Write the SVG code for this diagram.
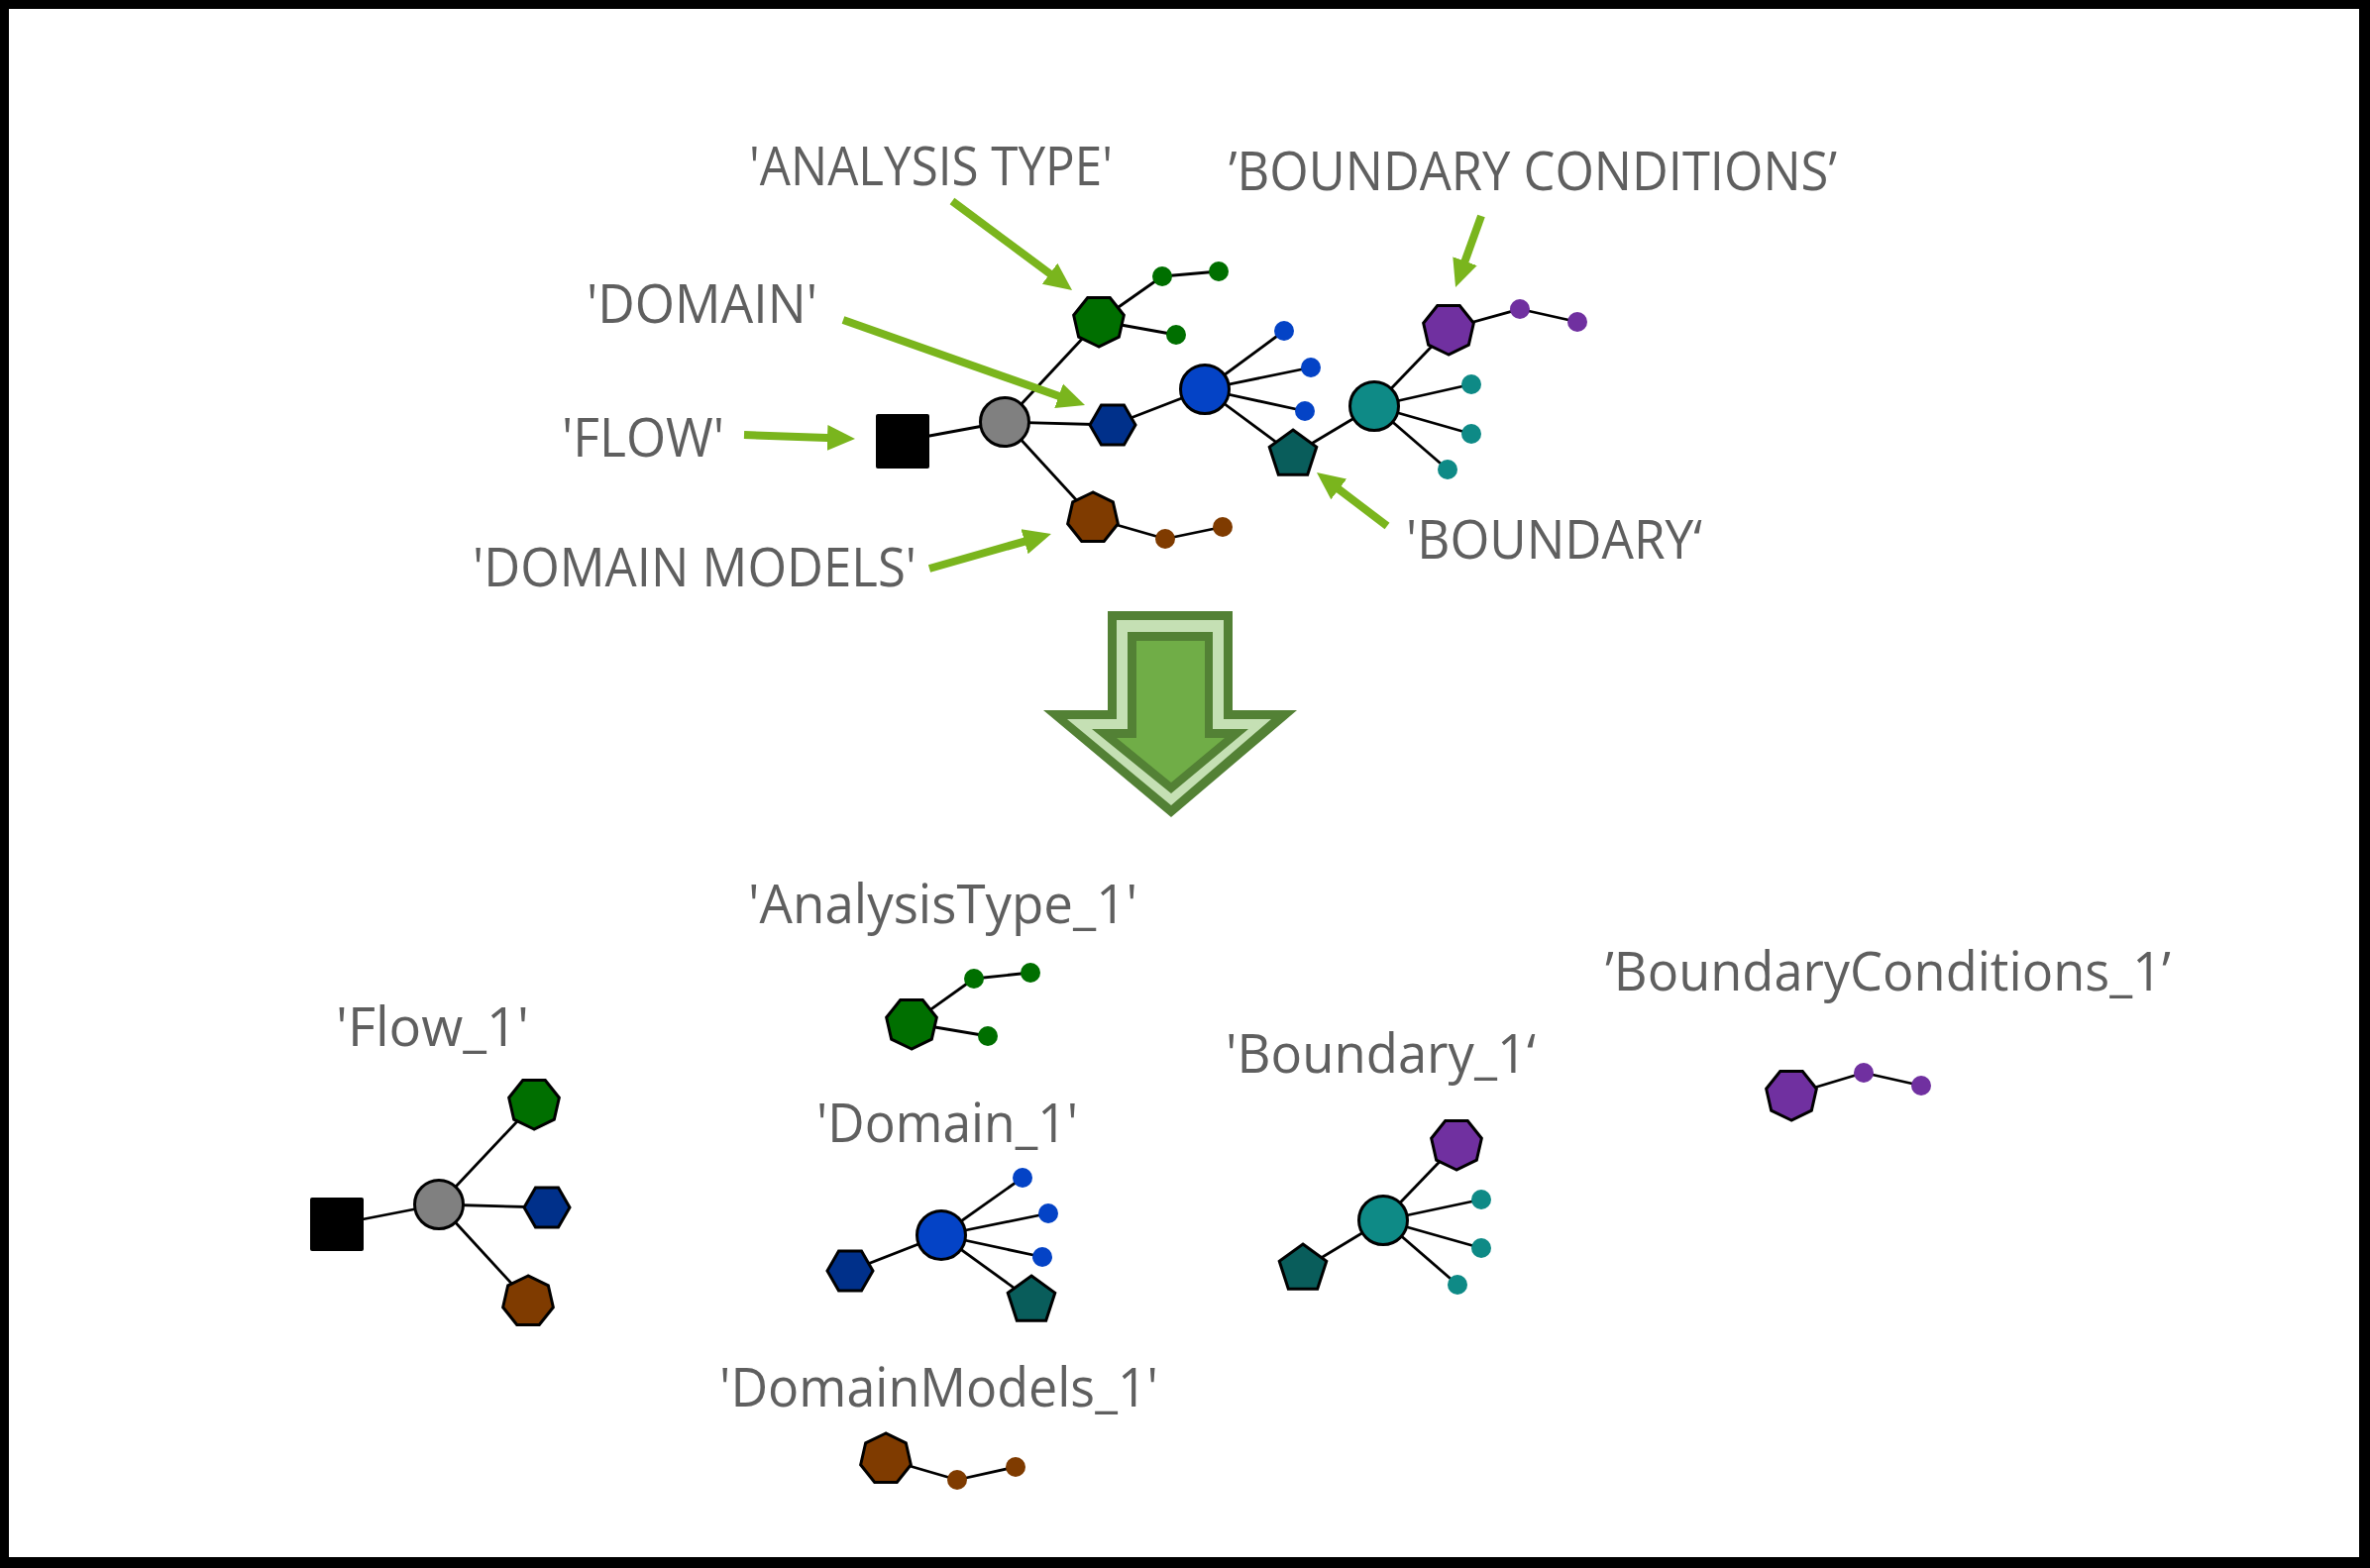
<svg xmlns="http://www.w3.org/2000/svg" xmlns:xlink="http://www.w3.org/1999/xlink" width="2392" height="1583" viewBox="0 0 2392 1583">
<defs>
<style>
.lbl{font-family:"Open Sans","Noto Sans","Liberation Sans",sans-serif;font-size:55px;fill:#5f5f5f}
.edge{stroke:#000;stroke-width:2.8;fill:none}
.nd{stroke:#000;stroke-width:3;stroke-linejoin:miter}
.ptr{stroke:#7ab51d;stroke-width:8;fill:none}
.g{fill:#006f00}.db{fill:#00308a}.bl{fill:#0443c6}.tp{fill:#095d5b}.tc{fill:#0e8a86}.pu{fill:#7030a0}.br{fill:#7f3b00}.gy{fill:#808080}
</style>
<marker id="ah" markerUnits="userSpaceOnUse" markerWidth="30" markerHeight="28" refX="14" refY="13" orient="auto" viewBox="0 0 30 26">
<path d="M0,0 L28,13 L0,26 z" fill="#7ab51d"/>
</marker>
<polygon id="heptD" points="0,26 -20.33,16.21 -25.35,-5.79 -11.28,-23.43 11.28,-23.43 25.35,-5.79 20.33,16.21"/>
<polygon id="heptU" points="0,-26 -20.33,-16.21 -25.35,5.79 -11.28,23.43 11.28,23.43 25.35,5.79 20.33,-16.21"/>
<polygon id="hex" points="23,0 11.5,19.92 -11.5,19.92 -23,0 -11.5,-19.92 11.5,-19.92"/>
<polygon id="pent" points="0,-25 23.78,-7.73 14.69,20.23 -14.69,20.23 -23.78,-7.73"/>
</defs>
<rect x="0" y="0" width="2392" height="1583" fill="#fff"/>
<path d="M0,0 H2392 V1583 H0 Z M9,9 V1572 H2381 V9 Z" fill="#000" fill-rule="evenodd"/>

<g id="connectors">
<!-- top -->
<line class="edge" x1="911" y1="445" x2="1014" y2="426"/>
<line class="edge" x1="1014" y1="426" x2="1109" y2="324"/>
<line class="edge" x1="1014" y1="426" x2="1123" y2="429"/>
<line class="edge" x1="1014" y1="426" x2="1103" y2="523"/>
<line class="edge" x1="1109" y1="324" x2="1173" y2="279"/>
<line class="edge" x1="1173" y1="279" x2="1230" y2="274"/>
<line class="edge" x1="1109" y1="324" x2="1187" y2="338"/>
<line class="edge" x1="1123" y1="429" x2="1216" y2="393"/>
<line class="edge" x1="1216" y1="393" x2="1296" y2="334"/>
<line class="edge" x1="1216" y1="393" x2="1323" y2="371"/>
<line class="edge" x1="1216" y1="393" x2="1317" y2="415"/>
<line class="edge" x1="1216" y1="393" x2="1305" y2="459"/>
<line class="edge" x1="1305" y1="459" x2="1387" y2="410"/>
<line class="edge" x1="1387" y1="410" x2="1462" y2="332"/>
<line class="edge" x1="1462" y1="332" x2="1534" y2="312"/>
<line class="edge" x1="1534" y1="312" x2="1592" y2="325"/>
<line class="edge" x1="1387" y1="410" x2="1485" y2="388"/>
<line class="edge" x1="1387" y1="410" x2="1485" y2="438"/>
<line class="edge" x1="1387" y1="410" x2="1461" y2="474"/>
<line class="edge" x1="1103" y1="523" x2="1176" y2="544"/>
<line class="edge" x1="1176" y1="544" x2="1234" y2="532"/>
<!-- Flow_1 -->
<line class="edge" x1="340" y1="1236" x2="443" y2="1216"/>
<line class="edge" x1="443" y1="1216" x2="539" y2="1114"/>
<line class="edge" x1="443" y1="1216" x2="552" y2="1219"/>
<line class="edge" x1="443" y1="1216" x2="533" y2="1314"/>
<!-- AnalysisType_1 -->
<line class="edge" x1="920" y1="1033" x2="983" y2="988"/>
<line class="edge" x1="983" y1="988" x2="1040" y2="982"/>
<line class="edge" x1="920" y1="1033" x2="997" y2="1046"/>
<!-- Domain_1 -->
<line class="edge" x1="858" y1="1283" x2="950" y2="1247"/>
<line class="edge" x1="950" y1="1247" x2="1032" y2="1189"/>
<line class="edge" x1="950" y1="1247" x2="1058" y2="1225"/>
<line class="edge" x1="950" y1="1247" x2="1052" y2="1269"/>
<line class="edge" x1="950" y1="1247" x2="1041" y2="1313"/>
<!-- Boundary_1 -->
<line class="edge" x1="1315" y1="1281" x2="1396" y2="1232"/>
<line class="edge" x1="1396" y1="1232" x2="1470" y2="1155"/>
<line class="edge" x1="1396" y1="1232" x2="1495" y2="1211"/>
<line class="edge" x1="1396" y1="1232" x2="1495" y2="1260"/>
<line class="edge" x1="1396" y1="1232" x2="1471" y2="1297"/>
<!-- BoundaryConditions_1 -->
<line class="edge" x1="1808" y1="1105" x2="1881" y2="1083"/>
<line class="edge" x1="1881" y1="1083" x2="1939" y2="1096"/>
<!-- DomainModels_1 -->
<line class="edge" x1="894" y1="1473" x2="966" y2="1494"/>
<line class="edge" x1="966" y1="1494" x2="1025" y2="1481"/>
<!-- label pointers -->
<line class="ptr" x1="961" y1="203" x2="1070.8" y2="284.6" marker-end="url(#ah)"/>
<line class="ptr" x1="851" y1="323" x2="1081.8" y2="404.4" marker-end="url(#ah)"/>
<line class="ptr" x1="751" y1="439" x2="849" y2="442.5" marker-end="url(#ah)"/>
<line class="ptr" x1="938" y1="574" x2="1047.5" y2="542.8" marker-end="url(#ah)"/>
<line class="ptr" x1="1495" y1="218" x2="1473.8" y2="276.8" marker-end="url(#ah)"/>
<line class="ptr" x1="1400" y1="531" x2="1340.1" y2="485.5" marker-end="url(#ah)"/>
</g>

<!-- top graph nodes -->
<g id="flow"><rect x="884" y="418" width="54" height="55" rx="2" fill="#000"/></g>
<g id="flow-hub"><circle cx="1014" cy="426" r="24.5" class="nd gy"/></g>
<g id="analysis-type"><use xlink:href="#heptD" x="1109" y="324" class="nd g"/></g>
<g id="analysis-dots"><circle cx="1173" cy="279" r="10" class="g"/><circle cx="1230" cy="274" r="10" class="g"/><circle cx="1187" cy="338" r="10" class="g"/></g>
<g id="domain"><use xlink:href="#hex" x="1123" y="429" class="nd db"/></g>
<g id="domain-hub"><circle cx="1216" cy="393" r="24.5" class="nd bl"/></g>
<g id="domain-dots"><circle cx="1296" cy="334" r="10" class="bl"/><circle cx="1323" cy="371" r="10" class="bl"/><circle cx="1317" cy="415" r="10" class="bl"/></g>
<g id="boundary"><use xlink:href="#pent" x="1305" y="459" class="nd tp"/></g>
<g id="boundary-hub"><circle cx="1387" cy="410" r="24.5" class="nd tc"/></g>
<g id="boundary-dots"><circle cx="1485" cy="388" r="10" class="tc"/><circle cx="1485" cy="438" r="10" class="tc"/><circle cx="1461" cy="474" r="10" class="tc"/></g>
<g id="boundary-conditions"><use xlink:href="#heptD" x="1462" y="332" class="nd pu"/><circle cx="1534" cy="312" r="10" class="pu"/><circle cx="1592" cy="325" r="10" class="pu"/></g>
<g id="domain-models"><use xlink:href="#heptU" x="1103" y="523" class="nd br"/><circle cx="1176" cy="544" r="10" class="br"/><circle cx="1234" cy="532" r="10" class="br"/></g>

<!-- top labels -->
<g id="labels-top">
<text class="lbl" x="756" y="187" textLength="367" lengthAdjust="spacingAndGlyphs">'ANALYSIS TYPE'</text>
<text class="lbl" x="1240" y="192" textLength="614" lengthAdjust="spacingAndGlyphs">’BOUNDARY CONDITIONS’</text>
<text class="lbl" x="592" y="326" textLength="233" lengthAdjust="spacingAndGlyphs">'DOMAIN'</text>
<text class="lbl" x="567" y="461" textLength="164" lengthAdjust="spacingAndGlyphs">'FLOW'</text>
<text class="lbl" x="477" y="592" textLength="448" lengthAdjust="spacingAndGlyphs">'DOMAIN MODELS'</text>
<text class="lbl" x="1419" y="564" textLength="299" lengthAdjust="spacingAndGlyphs">'BOUNDARY‘</text>
</g>

<!-- big arrow -->
<g id="big-arrow">
<polygon points="1118,617 1244,617 1244,717 1309,717 1182,825 1053,717 1118,717" fill="#538135"/>
<polygon points="1127,626 1235,626 1235,726 1283,726 1182,813 1077,726 1127,726" fill="#c5e0b4"/>
<polygon points="1138,638 1224,638 1224,736 1260,736 1182,801 1102,736 1138,736" fill="#538135"/>
<polygon points="1147,647 1216,647 1216,745 1236,745 1182,790 1127,745 1147,745" fill="#70ad47"/>
</g>

<!-- Flow_1 -->
<g id="flow-1">
<rect x="313" y="1209" width="54" height="54" rx="2" fill="#000"/>
<circle cx="443" cy="1216" r="24.5" class="nd gy"/>
<use xlink:href="#heptD" x="539" y="1114" class="nd g"/>
<use xlink:href="#hex" x="552" y="1219" class="nd db"/>
<use xlink:href="#heptU" x="533" y="1314" class="nd br"/>
<text class="lbl" x="339" y="1056" textLength="195" lengthAdjust="spacingAndGlyphs">'Flow_1'</text>
</g>

<!-- AnalysisType_1 -->
<g id="analysis-type-1">
<use xlink:href="#heptD" x="920" y="1033" class="nd g"/>
<circle cx="983" cy="988" r="10" class="g"/><circle cx="1040" cy="982" r="10" class="g"/><circle cx="997" cy="1046" r="10" class="g"/>
<text class="lbl" x="755" y="932" textLength="393" lengthAdjust="spacingAndGlyphs">'AnalysisType_1'</text>
</g>

<!-- Domain_1 -->
<g id="domain-1">
<use xlink:href="#hex" x="858" y="1283" class="nd db"/>
<circle cx="950" cy="1247" r="24.5" class="nd bl"/>
<circle cx="1032" cy="1189" r="10" class="bl"/><circle cx="1058" cy="1225" r="10" class="bl"/><circle cx="1052" cy="1269" r="10" class="bl"/>
<use xlink:href="#pent" x="1041" y="1313" class="nd tp"/>
<text class="lbl" x="824" y="1153" textLength="264" lengthAdjust="spacingAndGlyphs">'Domain_1'</text>
</g>

<!-- Boundary_1 -->
<g id="boundary-1">
<use xlink:href="#pent" x="1315" y="1281" class="nd tp"/>
<circle cx="1396" cy="1232" r="24.5" class="nd tc"/>
<use xlink:href="#heptD" x="1470" y="1155" class="nd pu"/>
<circle cx="1495" cy="1211" r="10" class="tc"/><circle cx="1495" cy="1260" r="10" class="tc"/><circle cx="1471" cy="1297" r="10" class="tc"/>
<text class="lbl" x="1237" y="1083" textLength="313" lengthAdjust="spacingAndGlyphs">'Boundary_1‘</text>
</g>

<!-- BoundaryConditions_1 -->
<g id="boundary-conditions-1">
<use xlink:href="#heptD" x="1808" y="1105" class="nd pu"/>
<circle cx="1881" cy="1083" r="10" class="pu"/><circle cx="1939" cy="1096" r="10" class="pu"/>
<text class="lbl" x="1620" y="1000" textLength="571" lengthAdjust="spacingAndGlyphs">’BoundaryConditions_1’</text>
</g>

<!-- DomainModels_1 -->
<g id="domain-models-1">
<use xlink:href="#heptU" x="894" y="1473" class="nd br"/>
<circle cx="966" cy="1494" r="10" class="br"/><circle cx="1025" cy="1481" r="10" class="br"/>
<text class="lbl" x="726" y="1420" textLength="443" lengthAdjust="spacingAndGlyphs">'DomainModels_1'</text>
</g>
</svg>
